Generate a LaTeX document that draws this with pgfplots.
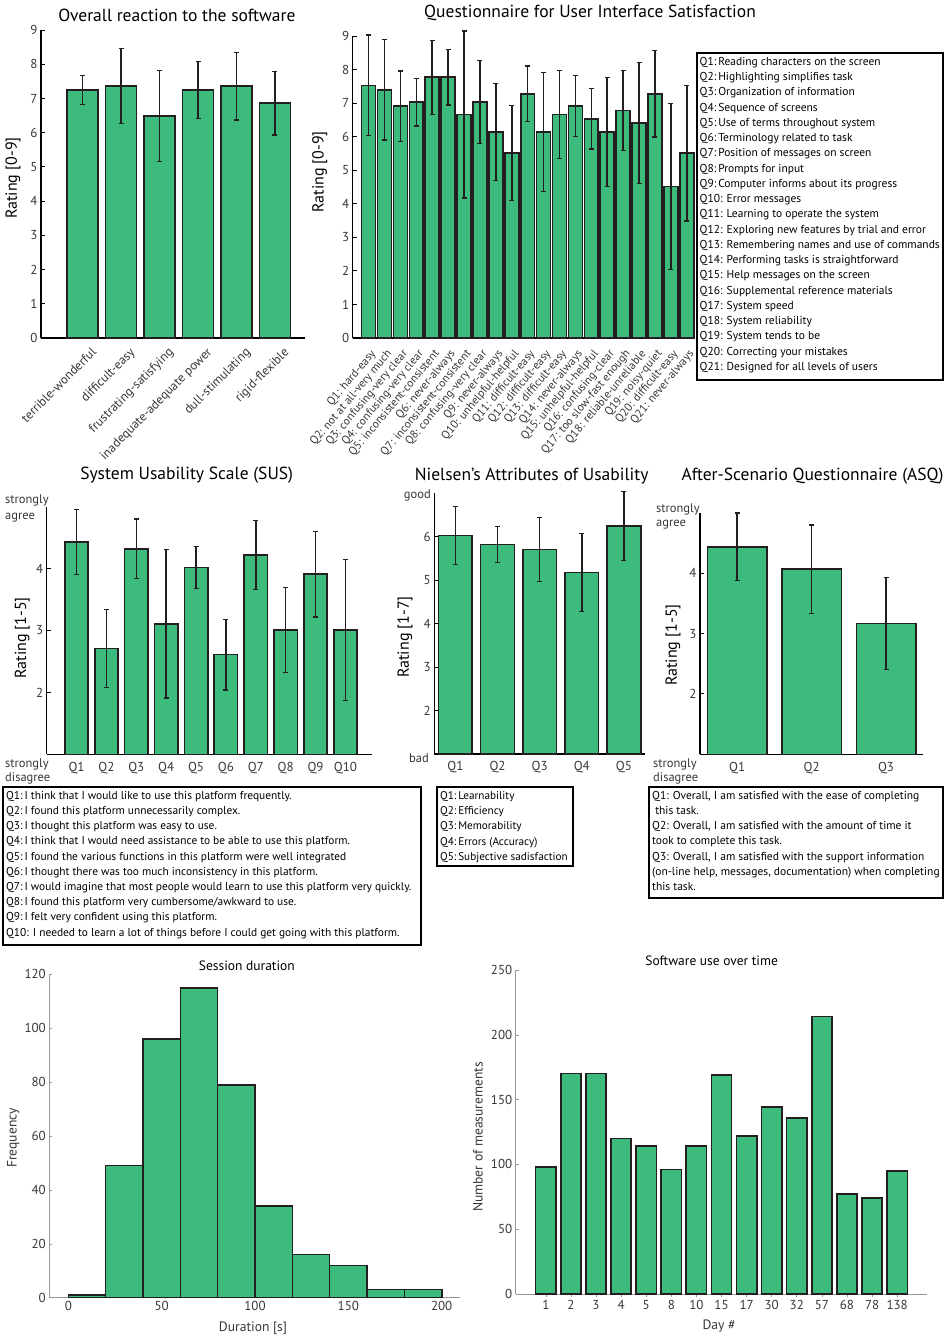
\documentclass[border=0pt]{standalone}
\usepackage{pgfplots}
\pgfplotsset{compat=1.18}
\usepackage{fontspec}
\setmainfont{PT Sans}
\definecolor{barg}{RGB}{61,187,125}
\definecolor{edge}{RGB}{35,31,32}
\definecolor{tl}{RGB}{55,55,55}
\definecolor{gax}{RGB}{150,150,150}
\newcommand\fs[2]{\fontsize{#1}{#2}\selectfont}
\pgfplotsset{
  topbars/.style={
    scale only axis, anchor=south west,
    axis lines=left, axis line style={-, line width=1.3pt, black},
    tick align=inside, major tick length=4pt,
    ytick style={line width=1pt, black}, xtick style={draw=none},
    ticklabel style={font=\fs{13}{15}, text=tl},
    /pgf/number format/assume math mode=true,
    ybar, clip=false,
    every axis plot/.append style={fill=barg, draw=edge, line width=1.6pt},
    title style={font=\fs{17.5}{19}, anchor=center},
    ylabel style={font=\fs{16}{18}, anchor=center},
  },
  eb/.style={error bars/y dir=both, error bars/y explicit,
    error bars/error bar style={line width=1.6pt, draw=edge},
    error bars/error mark options={rotate=90, mark size=2.5pt, line width=1.3pt, draw=edge}},
  botbars/.style={
    scale only axis, anchor=south west,
    axis lines=left, axis line style={-, line width=0.8pt, gax},
    tick align=inside, major tick length=3pt,
    tick style={line width=0.6pt, gax},
    ticklabel style={font=\fs{13}{15}, text=tl},
    /pgf/number format/assume math mode=true,
    title style={font=\fs{13.5}{15}, anchor=center},
    xlabel style={font=\fs{13.6}{15}, anchor=center, text=tl},
    ylabel style={font=\fs{13.6}{15}, anchor=center, text=tl},
  },
}
\begin{document}
\begin{tikzpicture}
\useasboundingbox (0,0) rectangle (948pt,-1339pt);

% ---------- Overall reaction ----------
\begin{axis}[topbars, at={(41pt,-338pt)}, width=264pt, height=308pt,
  xmin=-0.08, xmax=6.78, ymin=0, ymax=9, ytick={0,...,9}, bar width=0.8,
  xtick={1,...,6},
  xticklabels={terrible-wonderful, difficult-easy, frustrating-satisfying, inadequate-adequate power, dull-stimulating, rigid-flexible},
  xticklabel style={font=\fs{12.7}{14}, xshift=8pt, yshift=-3pt, rotate=45, anchor=north east, inner sep=1pt},
  title={Overall reaction to the software}, title style={at={(axis description cs:0.515,1.029)}},
  ylabel={Rating [0-9]}, ylabel style={at={(axis description cs:-0.106,0.519)}}]
\addplot[eb] coordinates {(1,7.25) +- (0,0.43) (2,7.36) +- (0,1.10) (3,6.49) +- (0,1.33)
  (4,7.24) +- (0,0.83) (5,7.36) +- (0,0.99) (6,6.86) +- (0,0.93)};
\end{axis}

% ---------- QUIS ----------
\begin{axis}[topbars, at={(352.7pt,-338pt)}, width=342pt, height=302pt,
  xmin=0, xmax=21.5, ymin=0, ymax=9, ytick={0,...,9}, bar width=0.875,
  xtick={1,...,21},
  xticklabels={Q1: hard-easy, Q2: not at all-very much, Q3: confusing-very clear, Q4: confusing-very clear,
    Q5: inconsistent-consistent, Q6: never-always, Q7: inconsistent-consistent, Q8: confusing-very clear,
    Q9: never-always, Q10: unhelpful-helpful, Q11: difficult-easy, Q12: difficult-easy, Q13: difficult-easy,
    Q14: never-always, Q15: unhelpful-helpful, Q16: confusing-clear, Q17: too slow-fast enough,
    Q18: reliable-unreliable, Q19: noisy-quiet, Q20: difficult-easy, Q21: never-always},
  xticklabel style={font=\fs{11.5}{12}, xshift=1pt, yshift=-5pt, rotate=50, anchor=north east, inner sep=1pt},
  title={Questionnaire for User Interface Satisfaction}, title style={at={(axis description cs:0.694,1.056)}},
  ylabel={Rating [0-9]}, ylabel style={at={(axis description cs:-0.096,0.55)}}]
\addplot[eb] coordinates {(1,7.53) +- (0,1.50) (2,7.40) +- (0,1.50) (3,6.91) +- (0,1.05) (4,7.03) +- (0,0.71)
  (5,7.77) +- (0,1.10) (6,7.77) +- (0,0.83) (7,6.66) +- (0,2.49) (8,7.03) +- (0,1.23)
  (9,6.14) +- (0,1.45) (10,5.51) +- (0,1.42) (11,7.28) +- (0,0.83) (12,6.14) +- (0,1.77)
  (13,6.66) +- (0,1.31) (14,6.91) +- (0,0.91) (15,6.53) +- (0,0.90) (16,6.14) +- (0,1.62)
  (17,6.78) +- (0,1.19) (18,6.41) +- (0,1.80) (19,7.28) +- (0,1.29) (20,4.52) +- (0,2.47)
  (21,5.51) +- (0,2.02)};
\end{axis}
\fill[white] (697pt,-53pt) rectangle (943pt,-380pt);
\draw[line width=1.2pt] (697pt,-53pt) rectangle (943pt,-380pt);
\node[anchor=north west, align=left, inner sep=0pt, font=\fs{11.5}{15.25}] at (699.5pt,-57pt) {%
Q1:\,Reading characters on the screen\\
Q2:\,Highlighting simplifies task\\
Q3:\,Organization of information\\
Q4:\,Sequence of screens\\
Q5:\,Use of terms throughout system\\
Q6:\,Terminology related to task\\
Q7:\,Position of messages on screen\\
Q8:\,Prompts for input\\
Q9:\,Computer informs about its progress\\
Q10: Error messages\\
Q11: Learning to operate the system\\
Q12: Exploring new features by trial and error\\
Q13: Remembering names and use of commands\\
Q14: Performing tasks is straightforward\\
Q15: Help messages on the screen\\
Q16: Supplemental reference materials\\
Q17: System speed\\
Q18: System reliability\\
Q19: System tends to be\\
Q20: Correcting your mistakes\\
Q21: Designed for all levels of users};

% ---------- SUS ----------
\begin{axis}[topbars, at={(46.7pt,-754.3pt)}, width=325.6pt, height=247.6pt,
  xmin=0, xmax=10.9, y filter/.expression={y-1}, ymin=0, ymax=4,
  ytick={1,2,3}, yticklabels={2,3,4}, bar width=0.78,
  xtick={1,...,10}, xticklabels={Q1,Q2,Q3,Q4,Q5,Q6,Q7,Q8,Q9,Q10},
  title={System Usability Scale (SUS)}, title style={at={(axis description cs:0.43,1.104)}},
  ylabel={Rating [1-5]}, ylabel style={at={(axis description cs:-0.075,0.47)}}]
\addplot[eb] coordinates {(1,4.43) +- (0,0.53) (2,2.71) +- (0,0.63) (3,4.32) +- (0,0.48) (4,3.11) +- (0,1.20)
  (5,4.02) +- (0,0.34) (6,2.61) +- (0,0.57) (7,4.22) +- (0,0.56) (8,3.01) +- (0,0.69)
  (9,3.91) +- (0,0.69) (10,3.01) +- (0,1.14)};
\end{axis}
\node[anchor=west, align=left, inner sep=0pt, font=\fs{12.5}{16}, text=tl] at (5pt,-508pt) {strongly\\agree};
\node[anchor=west, align=left, inner sep=0pt, font=\fs{12.5}{14}, text=tl] at (5pt,-771pt) {strongly\\disagree};
\draw[line width=1.2pt] (3pt,-787pt) rectangle (421pt,-945pt);
\node[anchor=north west, align=left, inner sep=0pt, font=\fs{11.4}{15.2}] at (6pt,-791pt) {%
Q1:\,I think that I would like to use this platform frequently.\\
Q2:\,I found this platform unnecessarily complex.\\
Q3:\,I thought this platform was easy to use.\\
Q4:\,I think that I would need assistance to be able to use this platform.\\
Q5:\,I found the various functions in this platform were well integrated\\
Q6:\,I thought there was too much inconsistency in this platform.\\
Q7:\,I would imagine that most people would learn to use this platform very quickly.\\
Q8:\,I found this platform very cumbersome/awkward to use.\\
Q9:\,I felt very confident using this platform.\\
Q10: I needed to learn a lot of things before I could get going with this platform.};

% ---------- Nielsen ----------
\begin{axis}[topbars, at={(434.3pt,-754pt)}, width=210.7pt, height=260.7pt,
  xmin=0.5, xmax=5.5, y filter/.expression={y-1}, ymin=0, ymax=6,
  ytick={1,...,5}, yticklabels={2,3,4,5,6}, bar width=0.8,
  xtick={1,...,5}, xticklabels={Q1,Q2,Q3,Q4,Q5},
  title={Nielsen’s Attributes of Usability}, title style={at={(axis description cs:0.462,1.043)}},
  ylabel={Rating [1-7]}, ylabel style={at={(axis description cs:-0.139,0.449)}}]
\addplot[eb] coordinates {(1,6.03) +- (0,0.67) (2,5.82) +- (0,0.42) (3,5.71) +- (0,0.74)
  (4,5.18) +- (0,0.90) (5,6.25) +- (0,0.79)};
\end{axis}
\node[anchor=east, inner sep=0pt, font=\fs{12.5}{14}, text=tl] at (431pt,-495pt) {good};
\node[anchor=east, inner sep=0pt, font=\fs{12.5}{14}, text=tl] at (429pt,-758pt) {bad};
\draw[line width=1.2pt] (437pt,-787pt) rectangle (573pt,-866pt);
\node[anchor=north west, align=left, inner sep=0pt, font=\fs{11.2}{15.3}] at (440pt,-791pt) {%
Q1:\,Learnability\\
Q2:\,Efficiency\\
Q3:\,Memorability\\
Q4:\,Errors (Accuracy)\\
Q5:\,Subjective sadisfaction};

% ---------- ASQ ----------
\begin{axis}[topbars, at={(700pt,-754.3pt)}, width=223.3pt, height=241.3pt,
  xmin=0.5, xmax=3.5, y filter/.expression={y-1}, ymin=0, ymax=4,
  ytick={1,2,3}, yticklabels={2,3,4}, bar width=0.8,
  xtick={1,2,3}, xticklabels={Q1,Q2,Q3},
  title={After-Scenario Questionnaire (ASQ)}, title style={at={(axis description cs:0.504,1.128)}},
  ylabel={Rating [1-5]}, ylabel style={at={(axis description cs:-0.121,0.453)}}]
\addplot[eb] coordinates {(1,4.44) +- (0,0.56) (2,4.07) +- (0,0.73) (3,3.17) +- (0,0.76)};
\end{axis}
\node[anchor=west, align=left, inner sep=0pt, font=\fs{12.5}{14}, text=tl] at (656pt,-516pt) {strongly\\agree};
\node[anchor=west, align=left, inner sep=0pt, font=\fs{12.5}{14}, text=tl] at (653pt,-771pt) {strongly\\disagree};
\draw[line width=1.2pt] (649pt,-787pt) rectangle (943pt,-898pt);
\node[anchor=north west, align=left, inner sep=0pt, font=\fs{11.5}{15.2}] at (652pt,-791pt) {%
Q1: Overall, I am satisfied with the ease of completing\\
\ this task.\\
Q2: Overall, I am satisfied with the amount of time it\\
took to complete this task.\\
Q3: Overall, I am satisfied with the support information\\
(on-line help, messages, documentation) when completing\\
this task.};

% ---------- Session duration ----------
\begin{axis}[botbars, at={(49.3pt,-1297.7pt)}, width=410.7pt, height=323.4pt,
  xmin=-10.2, xmax=209.8, ymin=0, ymax=120,
  xtick={0,50,...,200}, ytick={0,20,...,120},
  title={Session duration}, title style={at={(axis description cs:0.481,1.007)}},
  xlabel={Duration [s]}, xlabel style={at={(axis description cs:0.496,-0.094)}},
  ylabel={Frequency}, ylabel style={at={(axis description cs:-0.088,0.494)}}]
\addplot[ybar interval, fill=barg, draw=edge, line width=1.6pt] coordinates {
  (0,1) (20,49) (40,96) (60,115) (80,79) (100,34) (120,16) (140,12) (160,3) (180,3) (200,3)};
\end{axis}

% ---------- Software use ----------
\begin{axis}[botbars, at={(515.7pt,-1294pt)}, width=411.6pt, height=324pt,
  xmin=-0.2, xmax=16.2, ymin=0, ymax=250, ybar, bar width=0.81,
  xtick={1,...,15}, xticklabels={1,2,3,4,5,8,10,15,17,30,32,57,68,78,138},
  ytick={0,50,...,250},
  title={Software use over time}, title style={at={(axis description cs:0.476,1.009)}},
  xlabel={Day \#}, xlabel style={at={(axis description cs:0.494,-0.099)}},
  ylabel={Number of measurements}, ylabel style={at={(axis description cs:-0.092,0.485)}}]
\addplot[fill=barg, draw=edge, line width=1.6pt] coordinates {
  (1,98) (2,170) (3,170) (4,120) (5,114) (6,96) (7,114) (8,169) (9,122) (10,144.5)
  (11,136) (12,214) (13,77) (14,74) (15,95)};
\end{axis}
\end{tikzpicture}
\end{document}
